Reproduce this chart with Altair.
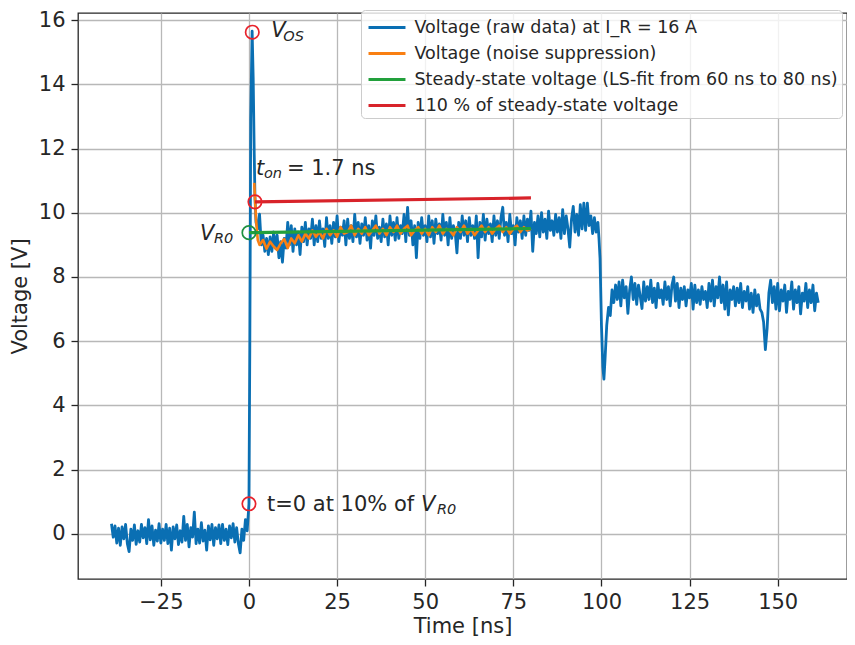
import altair as alt
import numpy as np
import pandas as pd

# ---------------- data ----------------
# raw voltage: pre-trigger part, sampled every 0.5 ns from -39 ns
pre_start, pre_step = -39.0, 0.5
pre_v = [0.32, -0.1, 0.25, -0.28, 0.18, -0.35, 0.22, -0.15, 0.3, -0.3,
         -0.55, 0.15, -0.2, 0.28, -0.32, 0.1, -0.25, 0.3, -0.12, 0.2,
         -0.3, 0.45, -0.18, 0.25, -0.35, 0.12, -0.22, 0.32, -0.28, 0.15,
         -0.2, 0.3, -0.3, 0.18, -0.5, 0.22, -0.15, 0.28, -0.33, 0.1,
         -0.25, 0.55, -0.2, 0.3, -0.4, 0.2, -0.1, 0.68, -0.3, 0.15,
         -0.28, 0.35, -0.22, 0.12, -0.5, 0.25, -0.18, 0.3, -0.35, 0.2,
         -0.15, 0.28, -0.3, 0.3, -0.2, 0.15, -0.33, 0.25, -0.12, 0.32,
         -0.25, 0.2, -0.3, -0.59, 0.15, -0.2, 0.45, 0.1]
# switching edge and overshoot
edge_t = [0.0, 0.25, 0.5, 0.9, 1.2, 1.5, 1.7, 2.0]
edge_v = [0.94, 6.0, 12.9, 15.65, 14.2, 11.8, 10.5, 9.7]
# on-state part, sampled every 0.5 ns from 2.5 ns
mid_start, mid_step = 2.5, 0.5
mid_v = [9.5, 9.96, 9.0, 9.3, 8.8, 9.2, 8.7, 9.25, 8.8, 9.4,
         8.9, 9.3, 8.6, 9.1, 8.46, 9.2, 8.9, 9.7, 9.0, 9.6,
         8.8, 9.5, 9.0, 9.4, 8.7, 9.55, 9.1, 9.7, 9.0, 9.5,
         9.2, 9.8, 9.0, 9.6, 9.1, 9.75, 9.2, 9.5, 8.95, 9.85,
         9.2, 9.6, 9.05, 9.7, 9.25, 9.9, 9.1, 9.55, 9.3, 9.75,
         9.0, 9.8, 9.2, 9.6, 9.1, 9.95, 9.25, 9.7, 9.05, 9.65,
         9.3, 9.85, 9.15, 9.6, 8.9, 9.75, 9.3, 9.9, 9.2, 9.55,
         9.1, 9.8, 9.25, 9.65, 9.0, 9.9, 9.3, 9.7, 9.15, 9.85,
         9.2, 9.6, 9.35, 9.95, 9.1, 10.17, 9.3, 9.75, 9.0, 9.6,
         8.6, 9.7, 9.2, 9.85, 9.3, 9.6, 9.1, 9.9, 9.25, 9.75,
         9.05, 9.8, 9.35, 9.65, 9.15, 9.95, 9.3, 9.7, 9.0, 9.85,
         9.2, 9.6, 9.4, 8.75, 9.7, 9.2, 9.9, 9.3, 9.75, 9.1,
         9.85, 9.3, 9.6, 9.2, 9.9, 8.6, 9.7, 9.25, 9.95, 9.15,
         9.8, 9.35, 9.65, 9.1, 9.9, 9.3, 9.75, 9.2, 9.85, 10.17,
         9.3, 9.7, 9.1, 9.95, 9.35, 9.6, 9.0, 9.85, 9.4, 9.75,
         9.2, 9.9, 9.3, 9.8, 9.45, 10.05, 8.8, 9.7, 9.35, 9.9,
         9.25, 10.0, 9.4, 9.8, 9.2, 10.05, 9.45, 9.75, 9.3, 9.95,
         9.4, 9.85, 9.2, 10.1, 9.35, 9.9, 9.5, 8.93, 9.8, 10.2,
         9.4, 9.95, 9.3, 10.25, 9.5, 10.3, 9.45, 10.3, 9.6, 9.9,
         9.35, 9.85, 9.4, 9.7]
# drop at 100 ns
drop_t = [99.3, 99.6, 100.0, 100.4, 100.7, 101.0, 101.5, 102.0, 102.5, 103.0]
drop_v = [9.2, 8.57, 6.5, 5.2, 4.82, 5.4, 6.5, 7.05, 6.8, 7.6]
# second plateau, sampled every 0.5 ns from 103.5 ns
post_start, post_step = 103.5, 0.5
post_v = [7.2, 7.75, 7.3, 7.85, 7.1, 7.9, 7.35, 7.7, 6.87, 7.6,
          8.0, 7.3, 7.8, 7.15, 7.75, 7.4, 7.02, 7.85, 7.25, 7.7,
          7.3, 7.9, 7.2, 7.65, 7.05, 7.8, 7.35, 7.6, 7.15, 7.85,
          7.3, 7.7, 7.1, 7.75, 8.0, 7.25, 7.8, 7.05, 7.65, 7.3,
          7.7, 7.1, 7.6, 7.35, 7.8, 7.0, 7.75, 7.2, 7.6, 7.15,
          7.7, 7.3, 7.55, 7.05, 7.8, 7.25, 7.9, 7.1, 7.7, 7.35,
          8.0, 7.2, 7.75, 7.0, 7.85, 6.82, 7.6, 7.3, 7.7, 7.1,
          7.65, 7.2, 7.8, 7.05, 7.55, 7.25, 7.7, 7.0, 7.5, 6.9,
          7.6, 7.1, 7.45, 7.0, 6.9, 6.6, 5.74, 6.4, 7.5, 7.9,
          7.2, 7.7, 7.0, 7.8, 6.95, 7.6, 7.25, 7.75, 6.9, 7.55,
          7.3, 7.85, 7.0, 7.6, 7.2, 7.7, 6.85, 7.5, 7.25, 7.8,
          7.05, 7.6, 7.2, 7.75, 6.95, 7.5, 7.2]

# noise-suppressed voltage
noise_t = [1.5, 2.0, 2.5] + list(range(3, 81))
noise_v = [10.93, 9.8, 9.15,
           9.0, 9.15, 8.88, 9.1, 8.95, 8.84, 9.05, 9.18, 8.9, 9.2,
           9.05, 9.3, 9.1, 9.35, 9.2, 9.45, 9.25, 9.4, 9.2, 9.5,
           9.3, 9.45, 9.25, 9.55, 9.35, 9.4, 9.6, 9.3, 9.5, 9.35,
           9.55, 9.3, 9.45, 9.6, 9.35, 9.5, 9.3, 9.55, 9.4, 9.6,
           9.35, 9.5, 9.6, 9.3, 9.45, 9.55, 9.35, 9.5, 9.3, 9.55,
           9.4, 9.6, 9.35, 9.5, 9.45, 9.3, 9.55, 9.4, 9.6, 9.35,
           9.5, 9.3, 9.45, 9.6, 9.4, 9.55, 9.35, 9.5, 9.6, 9.4,
           9.55, 9.35, 9.5, 9.6, 9.4, 9.55, 9.45, 9.5]

# steady-state fit and 110 % line
steady_t = [0.0, 80.0]
steady_v = [9.38, 9.51]
thr_t = [1.7, 80.0]
thr_v = [10.34, 10.46]

# marked points
red_pts_t = [0.94, 1.7, 0.0]
red_pts_v = [15.62, 10.34, 0.94]
green_pts_t = [0.0]
green_pts_v = [9.38]

S_RAW = "Voltage (raw data) at I_R = 16 A"
S_NOISE = "Voltage (noise suppression)"
S_SS = "Steady-state voltage (LS-fit from 60 ns to 80 ns)"
S_110 = "110 % of steady-state voltage"
series_names = [S_RAW, S_NOISE, S_SS, S_110]
series_colors = ["#0a6fb3", "#f97f12", "#22a03c", "#d8232a"]

x_ticks = [-25, 0, 25, 50, 75, 100, 125, 150]
y_ticks = [0, 2, 4, 6, 8, 10, 12, 14, 16]

# ---------------- build tables ----------------
pre_t = list(pre_start + pre_step * np.arange(len(pre_v)))
mid_t = list(mid_start + mid_step * np.arange(len(mid_v)))
post_t = list(post_start + post_step * np.arange(len(post_v)))
raw_df = pd.DataFrame({
    "t": pre_t + edge_t + mid_t + drop_t + post_t,
    "v": pre_v + edge_v + mid_v + drop_v + post_v,
})
raw_df["series"] = S_RAW
noise_df = pd.DataFrame({"t": noise_t, "v": noise_v, "series": S_NOISE})
ss_df = pd.DataFrame({"t": steady_t, "v": steady_v, "series": S_SS})
thr_df = pd.DataFrame({"t": thr_t, "v": thr_v, "series": S_110})
red_df = pd.DataFrame({"t": red_pts_t, "v": red_pts_v})
green_df = pd.DataFrame({"t": green_pts_t, "v": green_pts_v})

FONT = "DejaVu Sans"
TXT = "#262626"

xs = alt.Scale(domain=[-48.5, 169.66], nice=False, zero=False)
ys = alt.Scale(domain=[-1.401, 16.218], nice=False, zero=False)
X = alt.X("t:Q", scale=xs, axis=alt.Axis(values=x_ticks, title="Time [ns]", titlePadding=3, labelPadding=5))
Y = alt.Y("v:Q", scale=ys, axis=alt.Axis(values=y_ticks, title="Voltage [V]", titlePadding=8, labelPadding=6))

legend = alt.Legend(
    title=None, orient="none", legendX=283, legendY=-3,
    symbolType="M-1.54,0L1.54,0", symbolSize=576, symbolStrokeWidth=3,
    labelFont=FONT, labelFontSize=17.5, labelColor=TXT, labelLimit=800,
    padding=4, rowPadding=4, symbolOffset=8.5, labelOffset=14,
    fillColor="rgba(255,255,255,0.8)", strokeColor="#cccccc", cornerRadius=4,
)
C = alt.Color("series:N", scale=alt.Scale(domain=series_names, range=series_colors), legend=legend)


def line(df, width):
    return alt.Chart(df).mark_line(strokeWidth=width, strokeJoin="round").encode(x=X, y=Y, color=C)


raw_l = line(raw_df, 2.8)
noise_l = line(noise_df, 2.6)
ss_l = line(ss_df, 3.2)
thr_l = line(thr_df, 3.2)

red_p = alt.Chart(red_df).mark_point(shape="circle", filled=False, size=180, strokeWidth=1.7,
                                     color="#e8222b", opacity=1).encode(x=X, y=Y)
green_p = alt.Chart(green_df).mark_point(shape="circle", filled=False, size=180, strokeWidth=1.7,
                                         color="#1e9140", opacity=1).encode(x=X, y=Y)

# annotations: (text, anchor t, anchor v, dx, dy, size, style)
annotations = [
    ("V", 0.94, 15.62, 19, 5, 21, "italic"),
    ("OS", 0.94, 15.62, 31, 9, 14.5, "italic"),
    ("t", 1.7, 10.34, 1, -27, 21, "italic"),
    ("on", 1.7, 10.34, 9, -24, 14.5, "italic"),
    ("= 1.7 ns", 1.7, 10.34, 32, -27, 21, "normal"),
    ("V", 0.0, 9.38, -49, 7, 21, "italic"),
    ("R0", 0.0, 9.38, -35, 10, 14.5, "italic"),
    ("t=0 at 10% of", 0.0, 0.94, 18, 7, 21, "normal"),
    ("V", 0.0, 0.94, 172, 7, 21, "italic"),
    ("R0", 0.0, 0.94, 188, 10, 14.5, "italic"),
]
texts = []
for txt, at, av, dx, dy, fs, st in annotations:
    d = pd.DataFrame({"t": [at], "v": [av], "label": [txt]})
    texts.append(
        alt.Chart(d).mark_text(align="left", baseline="alphabetic", dx=dx, dy=dy, fontSize=fs,
                               fontStyle=st, font=FONT, color=TXT).encode(x=X, y=Y, text="label:N")
    )

chart = alt.layer(raw_l, noise_l, ss_l, thr_l, red_p, green_p, *texts).properties(
    width=769, height=566,
    autosize=alt.AutoSizeParams(type="none"),
    padding={"left": 70, "top": 5, "right": 0, "bottom": 58},
).configure_view(
    stroke="#262626", strokeWidth=1.3
).configure_axis(
    grid=True, gridColor="#b8b8b8", gridWidth=1.3, domain=False,
    tickColor=TXT, tickSize=7, tickWidth=1.3,
    labelFont=FONT, labelFontSize=21, labelColor=TXT,
    titleFont=FONT, titleFontSize=21, titleFontWeight="normal", titleColor=TXT,
)

chart.save("out.html", embed_options={"renderer": "svg", "actions": False})
